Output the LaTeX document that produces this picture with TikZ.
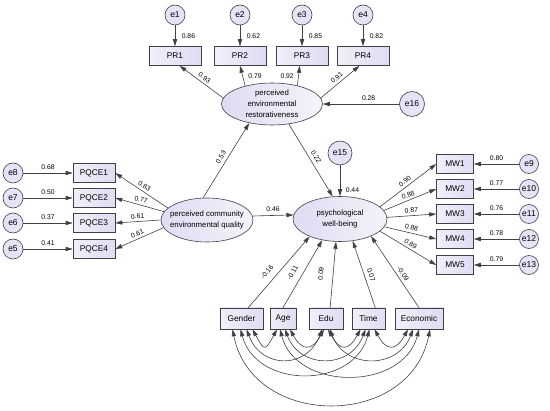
\documentclass[tikz,border=0pt]{standalone}
\usepackage{fontspec}
\setmainfont{Liberation Sans}
\usepackage{tikz}
\usetikzlibrary{arrows.meta, shapes.geometric}
\definecolor{lavender}{rgb}{0.88, 0.86, 0.95}
\definecolor{rimgray}{rgb}{0.25, 0.25, 0.28}

\begin{document}
\begin{tikzpicture}[x=1pt, y=-1pt, line width=0.6pt, draw=rimgray,
		>={Triangle[length=7pt, width=4.2pt]},
		errvar/.style={circle, draw, fill=lavender!80!white, minimum size=20pt, inner sep=0pt, font=\fontsize{8.5}{10}\selectfont},
		obsvar/.style={rectangle, draw, left color=lavender!45!white, right color=lavender, minimum height=19pt, inner sep=0pt, font=\fontsize{8.3}{10}\selectfont},
		latvar/.style={ellipse, draw, left color=lavender, right color=lavender!35!white, inner sep=0pt},
		lattext/.style={align=center, font=\fontsize{7.8}{11}\selectfont},
		coef/.style={font=\fontsize{6.8}{8}\selectfont, inner sep=1.5pt}]
		\useasboundingbox (0,0) rectangle (550,411);
		% latent variables
		\node[latvar, minimum width=101pt, minimum height=42pt, label={[lattext]center:perceived\\environmental\\restorativeness}] (restor) at (272,104) {};
		\node[latvar, minimum width=92pt, minimum height=44pt, label={[lattext]center:perceived community\\environmental quality}] (pceq) at (207,220) {};
		\node[latvar, minimum width=94pt, minimum height=45pt, label={[lattext]center:psychological\\well-being}] (psych) at (340,219) {};
		% restorativeness indicators
		\foreach \n/\x in {1/175, 2/240, 3/302, 4/363}{
			\node[obsvar, minimum width=52pt] (PR\n) at (\x,56) {PR\n};
			\node[errvar] (e\n) at (\x,15) {e\n};
		}
		\foreach \n/\v in {1/0.86, 2/0.62, 3/0.85, 4/0.82}{
			\draw[->] (e\n) -- (PR\n) node[coef, midway, right=5pt] {\v};
		}
		\draw[->] (restor.173) -- (PR1.-65) node[coef, midway, sloped, above=1pt] {0.93};
		\draw[->] (restor.146) -- (PR2.south) node[coef, midway, right=4pt] {0.79};
		\draw[->] (restor.36) -- (PR3.-103) node[coef, midway, left=3pt] {0.92};
		\draw[->] (restor.7) -- (PR4.-110) node[coef, midway, sloped, above=1pt] {0.91};
		\node[errvar, minimum size=25pt] (e16) at (412,104) {e16};
		\draw[->] (e16) -- (restor) node[coef, pos=0.4, above=2pt] {0.28};
		% community quality indicators
		\foreach \n/\y/\e in {1/173/8, 2/198/7, 3/223/6, 4/249/5}{
			\node[obsvar, minimum width=42pt] (PQCE\n) at (94,\y) {PQCE\n};
			\node[errvar] (e\e) at (13,\y) {e\e};
		}
		\foreach \e/\n/\v in {8/1/0.68, 7/2/0.50, 6/3/0.37, 5/4/0.41}{
			\draw[->] (e\e) -- (PQCE\n) node[coef, midway, above=2pt] {\v};
		}
		\foreach \n/\a/\v in {1/163/0.83, 2/169/0.77, 3/180/0.61, 4/190/0.61}{
			\draw[->] (pceq.\a) -- (PQCE\n.east) node[coef, midway, sloped, above=1pt] {\v};
		}
		% well-being indicators
		\foreach \n/\y/\e in {1/164/9, 2/189/10, 3/214/11, 4/239/12, 5/265/13}{
			\node[obsvar, minimum width=37pt] (MW\n) at (455,\y) {MW\n};
			\node[errvar, minimum size=19pt] (e\e) at (529,\y) {e\e};
		}
		\foreach \e/\n/\v in {9/1/0.80, 10/2/0.77, 11/3/0.76, 12/4/0.78, 13/5/0.79}{
			\draw[->] (e\e) -- (MW\n) node[coef, midway, above=2pt] {\v};
		}
		\foreach \n/\a/\v in {1/17/0.90, 2/11/0.88, 3/2/0.87, 4/-10/0.88, 5/-17/0.89}{
			\draw[->] (psych.\a) -- (MW\n.west) node[coef, midway, sloped, above=1pt] {\v};
		}
		% structural paths
		\draw[->] (pceq.100) -- (restor.-140) node[coef, midway, sloped, above=2pt] {0.53};
		\draw[->] (restor.-50) -- (psych.108) node[coef, midway, sloped, above=2pt] {0.22};
		\draw[->] (pceq.5) -- (psych.175) node[coef, midway, above=2pt] {0.46};
		\node[errvar, minimum size=24pt] (e15) at (340,153) {e15};
		\draw[->] (e15) -- (psych) node[coef, pos=0.8, right=4pt] {0.44};
		% controls
		\foreach \n/\x/\w in {Gender/241.5/43, Age/283/26, Edu/326/34, Time/368.5/33, Economic/419/48}{
			\node[obsvar, minimum width=\w pt, minimum height=21pt] (\n) at (\x,318.5) {\n};
		}
		\draw[->] (Gender.58) -- (psych.-150) node[coef, pos=0.42, sloped, above=5pt] {-0.16};
		\draw[->] (Age.north) -- (psych.-130) node[coef, pos=0.45, sloped, above=5pt] {-0.11};
		\draw[->] (Edu.69) -- (psych.-100) node[coef, pos=0.5, sloped, above=8pt] {0.09};
		\draw[->] (Time.58) -- (psych.-60) node[coef, pos=0.46, sloped, above=2.5pt] {0.07};
		\draw[->] (Economic.north) -- (psych.-29) node[coef, pos=0.43, sloped, above=1.5pt] {-0.09};
		% covariances
		\foreach \a/\sa/\b/\sb/\d/\k in {Gender/11/Age/-6/22/12, Age/7/Edu/-2/22/12, Edu/2/Time/-8/22/12, Time/6/Economic/-11/22/12,
				Gender/5/Edu/-4/40/15, Age/2/Time/-3/40/15, Edu/4/Economic/-6/40/15,
				Gender/-1/Time/1/60/16, Age/-3/Economic/0/62/16, Gender/-9/Economic/11/100/20}{
			\draw[<->] ([xshift=\sa pt]\a.south) .. controls ([xshift=\sa pt+\k pt, yshift=-\d pt]\a.south) and ([xshift=\sb pt-\k pt, yshift=-\d pt]\b.south) .. ([xshift=\sb pt]\b.south);
		}
	\end{tikzpicture}
\end{document}
